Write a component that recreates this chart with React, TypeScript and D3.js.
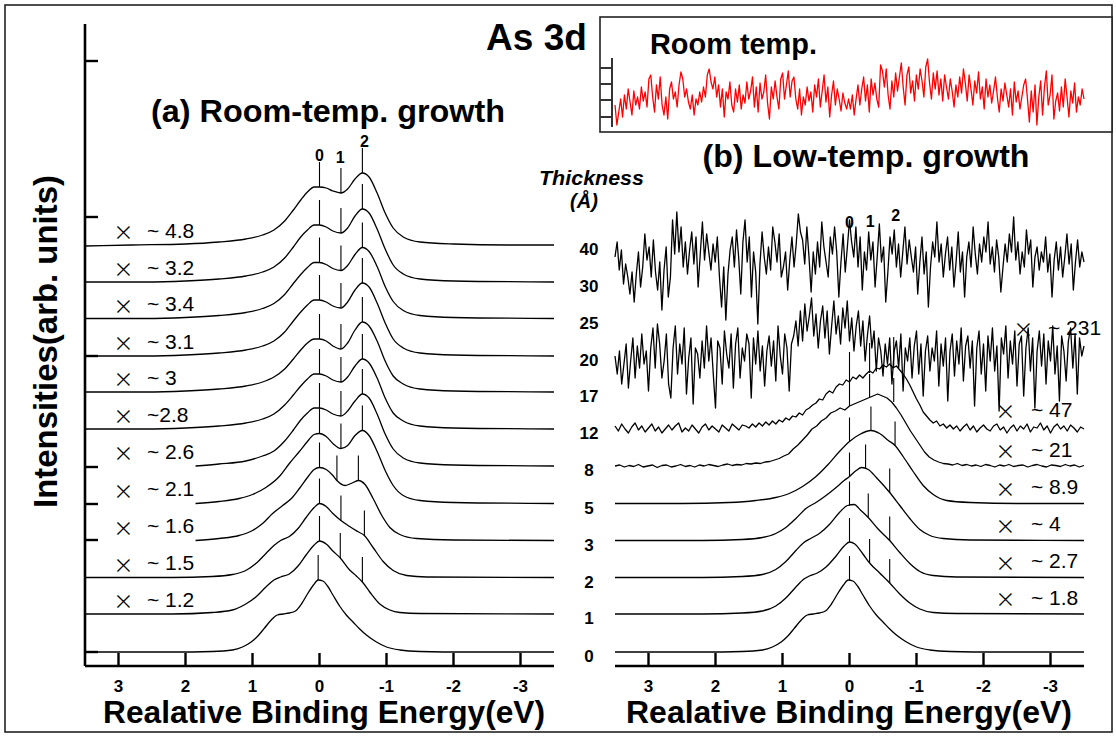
import React from 'react';
import * as d3 from 'd3';

type Pt = [number, number];

// ---------- axis / label data ----------
const energyTicks = [3, 2, 1, 0, -1, -2, -3];
const energyTickLabels = ['3', '2', '1', '0', '-1', '-2', '-3'];
const yAxisTicks = [0, 112, 148, 185, 296, 435, 591];
const insetTicks = [10, 27, 43, 59];

const thicknessLabels = ['40', '30', '25', '20', '17', '12', '8', '5', '3', '2', '1', '0'];
const thicknessOffsets = [407, 370, 333.5, 296, 260, 223, 186, 148.5, 111.5, 74.5, 38, 0];

const leftFactors = ['~ 4.8', '~ 3.2', '~ 3.4', '~ 3.1', '~ 3', '~2.8', '~ 2.6', '~ 2.1', '~ 1.6', '~ 1.5', '~ 1.2'];
const rightFactors = ['~ 1.8', '~ 2.7', '~ 4', '~ 8.9', '~ 21', '~ 47', '~ 231'];
const rightFactorOffsets = [38, 74.5, 111.5, 148.5, 186, 223, 296];

// ---------- (a) room-temperature growth spectra: [energy, intensity] ----------
const rt40: Pt[] = [[3.5,-1],[2.8,0],[2.0,1],[1.5,3],[1.1,6],[0.85,10],[0.68,15],[0.52,24],[0.39,35],[0.28,45],[0.18,53],[0.08,58],[0,58],[-0.1,57],[-0.2,54],[-0.32,52],[-0.42,56],[-0.53,66],[-0.64,72],[-0.74,68],[-0.86,52],[-0.98,32],[-1.1,17],[-1.25,8],[-1.5,3],[-2.0,1],[-2.8,0],[-3.5,0]];
const rt30: Pt[] = [[3.5,0],[2.6,0],[2.0,1],[1.5,3],[1.1,6],[0.85,10],[0.68,15],[0.52,24],[0.39,35],[0.28,45],[0.18,52],[0.08,57],[0,57],[-0.1,55],[-0.2,51],[-0.32,49],[-0.42,54],[-0.53,66],[-0.64,73],[-0.74,69],[-0.86,53],[-0.98,33],[-1.1,17],[-1.25,8],[-1.5,3],[-2.0,1],[-3.5,0]];
const rt25: Pt[] = [[3.5,0],[2.6,0],[2.0,1],[1.5,3],[1.1,6],[0.85,10],[0.68,15],[0.52,24],[0.39,35],[0.28,44],[0.18,51],[0.08,56],[0,56],[-0.1,54],[-0.2,50],[-0.32,48],[-0.42,53],[-0.53,64],[-0.64,71],[-0.74,67],[-0.86,52],[-0.98,32],[-1.1,17],[-1.25,8],[-1.5,3],[-2.0,1],[-3.5,0]];
const rt20: Pt[] = [[3.5,0],[2.6,0],[2.0,1],[1.5,3],[1.1,6],[0.85,10],[0.68,15],[0.52,24],[0.39,35],[0.28,44],[0.18,51],[0.08,56],[0,56],[-0.1,54],[-0.2,50],[-0.32,48],[-0.42,54],[-0.53,66],[-0.64,73],[-0.74,69],[-0.86,53],[-0.98,33],[-1.1,17],[-1.25,8],[-1.5,3],[-2.0,1],[-3.5,0]];
const rt17: Pt[] = [[3.5,0],[2.6,0],[2.0,1],[1.5,3],[1.1,6],[0.85,10],[0.68,15],[0.52,23],[0.39,33],[0.28,42],[0.18,49],[0.08,53],[0,53],[-0.1,51],[-0.2,46],[-0.32,43],[-0.42,49],[-0.53,62],[-0.64,70],[-0.74,66],[-0.86,51],[-0.98,31],[-1.1,16],[-1.25,8],[-1.5,3],[-2.0,1],[-3.5,0]];
const rt12: Pt[] = [[3.5,0],[2.6,0],[2.0,1],[1.5,3],[1.1,6],[0.85,10],[0.68,15],[0.52,24],[0.39,34],[0.28,43],[0.18,50],[0.08,55],[0,55],[-0.1,53],[-0.2,49],[-0.32,47],[-0.42,52],[-0.53,63],[-0.64,70],[-0.74,66],[-0.86,51],[-0.98,31],[-1.1,16],[-1.25,8],[-1.5,3],[-2.0,1],[-3.5,0]];
const rt8: Pt[] = [[1.85,0],[1.5,2],[1.1,5],[0.85,10],[0.68,15],[0.52,25],[0.39,36],[0.28,46],[0.18,53],[0.08,58],[0,58],[-0.1,56],[-0.2,52],[-0.32,50],[-0.42,55],[-0.53,65],[-0.64,72],[-0.74,68],[-0.86,52],[-0.98,32],[-1.1,17],[-1.25,8],[-1.5,3],[-2.0,1],[-3.5,0]];
const rt5: Pt[] = [[1.85,0],[1.5,2],[1.2,5],[1.0,9],[0.8,16],[0.6,27],[0.45,40],[0.3,52],[0.18,62],[0.08,69],[0,70],[-0.1,67],[-0.2,60],[-0.32,55],[-0.42,58],[-0.53,68],[-0.64,73],[-0.74,68],[-0.86,52],[-0.98,33],[-1.1,18],[-1.25,8],[-1.5,3],[-2.0,1],[-3.5,0]];
const rt3: Pt[] = [[1.85,0],[1.5,2],[1.2,5],[1.0,10],[0.85,17],[0.7,27],[0.55,35],[0.42,42],[0.3,52],[0.18,63],[0.08,71],[0,73],[-0.1,71],[-0.2,65],[-0.26,60],[-0.38,55],[-0.47,57],[-0.58,60],[-0.68,56],[-0.8,42],[-0.93,25],[-1.05,13],[-1.2,6],[-1.45,2],[-2.0,0.5],[-3.5,0]];
const rt2: Pt[] = [[3.5,0],[2.2,0],[1.6,1],[1.3,3],[1.1,7],[0.95,14],[0.8,24],[0.68,32],[0.58,37],[0.45,41],[0.32,49],[0.2,60],[0.08,70],[0,74],[-0.1,71],[-0.2,64],[-0.32,57],[-0.45,51],[-0.57,46],[-0.67,42],[-0.8,30],[-0.95,16],[-1.1,7],[-1.3,2],[-1.6,0.5],[-3.5,0]];
const rt1: Pt[] = [[3.5,0],[2.2,0],[1.6,1.5],[1.3,4],[1.1,10],[0.95,17],[0.8,27],[0.68,34],[0.58,37],[0.45,40],[0.32,48],[0.2,59],[0.08,69],[0,73],[-0.1,70],[-0.2,63],[-0.31,56],[-0.45,44],[-0.55,38],[-0.64,32],[-0.75,22],[-0.9,10],[-1.05,4],[-1.2,1.5],[-1.5,0.5],[-3.5,0]];
const clean0: Pt[] = [[3.5,0],[2.2,0],[1.6,0.5],[1.3,2],[1.15,5],[1.02,10],[0.92,16],[0.82,24],[0.72,32],[0.63,37],[0.54,38],[0.45,39],[0.36,41],[0.27,48],[0.18,58],[0.09,67],[0.02,72],[-0.05,71],[-0.12,66],[-0.2,57],[-0.3,46],[-0.4,37],[-0.5,30],[-0.6,23],[-0.7,17],[-0.85,10],[-1.0,5],[-1.2,2],[-1.5,0.5],[-2.2,0],[-3.5,0]];

const rtMarkers: Pt[][] = [
  [[0,58],[-0.32,52],[-0.64,72]],
  [[0,57],[-0.32,49],[-0.64,73]],
  [[0,56],[-0.32,48],[-0.64,71]],
  [[0,56],[-0.32,48],[-0.64,73]],
  [[0,53],[-0.32,43],[-0.64,70]],
  [[0,55],[-0.32,47],[-0.64,70]],
  [[0,58],[-0.32,50],[-0.64,72]],
  [[0,70],[-0.32,55],[-0.64,73]],
  [[0,73],[-0.26,60],[-0.58,60]],
  [[0,74],[-0.32,57],[-0.67,42]],
  [[0,73],[-0.31,56],[-0.64,32]],
  [[0.02,72]],
];

// ---------- (b) low-temperature growth spectra ----------
const lt1: Pt[] = [[3.5,0],[2.2,0],[1.6,1],[1.3,3],[1.1,8],[0.95,16],[0.8,27],[0.68,35],[0.6,38],[0.48,41],[0.35,47],[0.2,58],[0.08,68],[0,72],[-0.08,70],[-0.2,60],[-0.3,51],[-0.45,41],[-0.6,31],[-0.75,20],[-0.9,11],[-1.05,5],[-1.25,1.5],[-1.6,0.5],[-3.5,0]];
const lt2: Pt[] = [[3.5,0],[2.2,0],[1.6,1],[1.3,3],[1.1,8],[0.95,16],[0.8,27],[0.68,35],[0.58,39],[0.45,44],[0.3,53],[0.15,65],[0.03,72],[-0.07,73],[-0.17,67],[-0.28,60],[-0.42,49],[-0.6,37],[-0.75,25],[-0.9,14],[-1.05,6],[-1.25,2],[-1.6,0.5],[-3.5,0]];
const lt3: Pt[] = [[3.5,0],[2.2,0],[1.6,1],[1.3,3],[1.1,7],[0.95,13],[0.8,22],[0.65,32],[0.5,38],[0.35,45],[0.2,53],[0.08,60],[0,64],[-0.1,70],[-0.18,73],[-0.28,71],[-0.4,63],[-0.6,48],[-0.75,35],[-0.9,22],[-1.05,11],[-1.2,5],[-1.4,2],[-1.8,0.5],[-3.5,0]];
const lt5: Pt[] = [[3.5,0],[2.5,0],[1.8,1],[1.4,3],[1.1,6],[0.9,10],[0.7,17],[0.5,27],[0.32,39],[0.15,52],[0,62],[-0.15,69],[-0.32,73],[-0.45,70],[-0.58,63],[-0.68,58],[-0.8,47],[-0.95,32],[-1.1,18],[-1.25,9],[-1.45,3],[-1.8,1],[-2.5,0],[-3.5,0]];
const lt8: number[] = [0,1,-1,0.5,-0.5,1.5,-1,0,1,-1.5,0.5,1,-1,0,1.5,-0.5,0.5,-1,1,0,1.5,0.5,-0.5,1,2,0.5,1.5,1,2.5,2,3,2.5,4,4.5,6,7.5,10,12,17,21,26,31,37,40,45,48,53,55,58,56,60,62,64,66,68,70,72,70,68,64,58,51,43,35,28,21,14,9,6,4,2.5,2,1,2.5,0.5,1.5,0,1,-0.5,1.5,0.5,-1,1,0,1.5,-0.5,0.5,1,-1,0.5,1.5,0,-1,1,0.5,-0.5,1.5,0,1,-1,0.5];
const lt12: number[] = [3,-2,5,0,-4,2,6,-1,3,-3,1,5,-2,2,-4,0,4,-1,3,6,-3,1,-2,4,0,-4,2,5,-1,3,0,-3,4,1,-2,5,2,-1,4,3,
  1,5,2,6,3,7,4,8,5,9,7,11,9,13,12,16,14,19,21,24,26,30,29,35,38,36,42,45,44,49,47,52,50,54,51,55,58,56,61,60,
  64,62,65,61,63,59,55,50,44,37,30,24,17,13,9,6,8,3,5,1,
  4,0,3,-2,2,5,-1,3,-3,1,4,0,-2,3,5,-1,2,-4,1,4,-2,3,0,5,-3,2,1,6,-1,3,-4,2,5,0,3,-2,4,1,-3,2,0];
const lt20: number[] = [0,-18,5,-28,-8,12,-32,-5,18,-22,10,-12,22,-8,5,-35,8,28,-12,32,
  12,-22,-5,22,-28,-42,8,30,-18,12,-8,28,-38,-2,18,-48,8,2,-22,15,
  -12,30,-5,18,-18,-52,15,8,-28,25,2,-12,22,-32,12,28,-22,8,-5,22,
  12,-42,18,-8,25,-15,10,-30,5,20,-10,15,-25,30,0,-18,22,8,-35,12,
  20,35,10,45,15,52,25,40,58,20,42,8,35,50,18,45,2,30,55,22,
  40,12,48,28,55,15,38,5,30,45,10,35,-5,20,40,8,25,-15,18,5,
  -20,12,-8,18,-28,5,15,-12,22,-35,8,-5,18,-22,10,25,-18,12,-40,5,
  20,-15,8,-5,25,-30,12,-10,18,-45,5,22,-20,15,-8,28,-25,10,20,-12,
  15,-50,8,25,-18,12,-35,20,-5,28,-15,10,-55,18,2,30,-22,15,-8,25,
  -30,12,20,-40,8,28,-15,18,-52,5,25,-10,22,-28,15,-5,30,-18,10,-45,
  20,5,-25,15,28,-12,22,-38,18,0,10];
const lt30: number[] = [25,40,12,32,-2,18,5,-12,10,-20,8,30,-5,15,48,22,35,5,42,10,
  -8,20,-28,12,35,-15,5,62,28,70,30,55,15,40,8,32,50,18,45,-5,
  28,60,22,48,30,12,38,20,45,5,-25,15,-38,8,32,45,15,52,25,-12,
  40,62,20,45,-15,30,10,-42,18,50,25,8,35,12,55,40,20,48,5,15,
  30,-8,22,45,15,38,68,50,42,18,55,25,-10,30,8,40,15,60,35,20,
  5,45,28,55,30,-15,20,48,10,35,62,40,25,55,15,45,-8,30,12,50,
  22,40,-5,25,58,20,35,-20,10,45,28,52,15,38,5,30,55,18,42,25,
  10,35,-12,20,45,8,30,-25,15,40,25,60,20,38,5,28,45,12,35,-5,
  20,50,10,30,-15,25,40,15,55,28,8,38,20,45,30,60,18,35,10,42,
  25,-10,15,38,20,48,30,65,22,40,8,30,15,52,28,42,-5,25,35,12,
  30,20,45,10,28,-15,22,40,12,35,5,25,48,18,38,-8,20,42,15,30,20];

const ltMarkers: Pt[][] = [
  [[0,72]],
  [[0,72],[-0.3,51],[-0.6,31]],
  [[0,72],[-0.28,60],[-0.6,37]],
  [[0,64],[-0.24,72],[-0.6,48]],
  [[0,62],[-0.32,73],[-0.68,58]],
  [[0,60],[-0.3,68],[-0.66,64]],
  [[0,47],[-0.3,56],[-0.66,62]],
];
const ltMarkerOffsets = [0, 38, 74.5, 111.5, 148.5, 186, 223];

// ---------- inset: room temperature ----------
const insetTrace: number[] = [22,2,15,28,10,32,18,38,25,12,36,22,30,18,40,26,35,20,48,52,30,15,42,28,50,22,12,30,8,38,45,28,35,20,42,55,48,30,38,25,18,32,12,28,22,
  35,25,40,30,52,58,45,38,50,30,42,20,38,10,35,28,45,22,15,38,25,42,18,32,24,45,28,36,50,20,40,15,44,28,35,52,24,8,40,28,46,30,18,48,54,28,42,56,30,46,50,28,18,38,12,30,22,40,26,35,15,42,30,48,20,36,52,25,40,10,32,46,22,38,28,16,34,24,18,28,
  18,32,12,28,42,22,38,50,26,42,15,48,32,44,28,20,62,56,40,58,32,18,46,30,54,36,50,64,40,22,52,60,34,46,26,52,38,58,46,30,60,68,44,28,54,38,56,32,48,26,52,40,28,48,36,20,42,30,50,34,58,44,26,52,38,22,46,34,55,28,40,18,48,30,42,24,36,50,30,15,38,26,44,32,20,
  38,12,45,25,36,18,30,42,48,28,5,36,15,42,2,30,46,12,40,56,22,32,52,8,26,34,16,40,20,48,30,10,36,24,44,15,30,22,38,28];

const FONT = "'Liberation Sans', Arial, Helvetica, sans-serif";
const THIN = "Inter, 'DejaVu Sans', 'Liberation Sans', sans-serif";

const toPts = (vals: number[]): Pt[] =>
  vals.map((v, i) => [3.5 - (7 * i) / (vals.length - 1), v] as Pt);

export default function App() {
  const W = 1116, H = 736;
  const xL = d3.scaleLinear().domain([3.5, -3.5]).range([85, 554]);
  const xR = d3.scaleLinear().domain([3.5, -3.5]).range([615, 1084]);
  const y = d3.scaleLinear().domain([0, 628]).range([652, 24]);
  const yIn = d3.scaleLinear().domain([0, 69]).range([127, 58]);
  const axisY = 666;

  const leftCurves: Pt[][] = [rt40, rt30, rt25, rt20, rt17, rt12, rt8, rt5, rt3, rt2, rt1, clean0];
  const rightSmooth: { d: Pt[]; off: number }[] = [
    { d: clean0, off: 0 }, { d: lt1, off: 38 }, { d: lt2, off: 74.5 }, { d: lt3, off: 111.5 }, { d: lt5, off: 148.5 },
  ];
  const rightNoisy: { d: Pt[]; off: number }[] = [
    { d: toPts(lt8), off: 186 }, { d: toPts(lt12), off: 223 }, { d: toPts(lt20), off: 296 }, { d: toPts(lt30), off: 370 },
  ];

  const smooth = (xs: d3.ScaleLinear<number, number>, off: number) =>
    d3.line<Pt>().x((d) => xs(d[0])).y((d) => y(off + d[1])).curve(d3.curveMonotoneX);
  const linear = (xs: d3.ScaleLinear<number, number>, off: number) =>
    d3.line<Pt>().x((d) => xs(d[0])).y((d) => y(off + d[1]));
  const insetLine = d3.line<Pt>().x((d) => xR(d[0])).y((d) => yIn(d[1]));

  const xAxis = (xs: d3.ScaleLinear<number, number>, key: string) => (
    <g key={key}>
      <line x1={xs(3.5)} x2={xs(-3.5)} y1={axisY} y2={axisY} stroke="#000" strokeWidth={2.6} />
      {energyTicks.map((t, i) => (
        <g key={t}>
          <line x1={xs(t)} x2={xs(t)} y1={axisY} y2={axisY - 13} stroke="#000" strokeWidth={2.4} />
          <text x={xs(t)} y={692} textAnchor="middle" fontSize={17} fontWeight="bold" fontFamily={FONT}>
            {energyTickLabels[i]}
          </text>
        </g>
      ))}
    </g>
  );

  return (
    <svg width={W} height={H} style={{ position: 'absolute', left: 0, top: 0, background: '#fff' }} fontFamily={FONT}>
      <rect x={0} y={0} width={W} height={H} fill="#fff" />
      <rect x={5} y={5} width={1107} height={727} fill="none" stroke="#222" strokeWidth={1.6} />

      {/* Left y axis */}
      <line x1={85} x2={85} y1={24} y2={axisY} stroke="#000" strokeWidth={2.6} />
      {yAxisTicks.map((t) => (
        <line key={t} x1={85} x2={98} y1={y(t)} y2={y(t)} stroke="#000" strokeWidth={2.4} />
      ))}
      {xAxis(xL, 'xl')}
      {xAxis(xR, 'xr')}

      {/* Left panel spectra */}
      {leftCurves.map((c, i) => (
        <path key={'l' + i} d={smooth(xL, thicknessOffsets[i])(c) || ''} fill="none" stroke="#000" strokeWidth={1.3} />
      ))}
      {rtMarkers.map((ms, i) =>
        ms.map((m, j) => (
          <line key={'lm' + i + '-' + j} x1={xL(m[0])} x2={xL(m[0])} y1={y(thicknessOffsets[i] + m[1])} y2={y(thicknessOffsets[i] + m[1]) - 25}
            stroke="#000" strokeWidth={1.1} />
        ))
      )}

      {/* Right panel spectra */}
      {rightSmooth.map((c, i) => (
        <path key={'rs' + i} d={smooth(xR, c.off)(c.d) || ''} fill="none" stroke="#000" strokeWidth={1.3} />
      ))}
      {rightNoisy.map((c, i) => (
        <path key={'rn' + i} d={linear(xR, c.off)(c.d) || ''} fill="none" stroke="#000" strokeWidth={1.3} strokeLinejoin="round" />
      ))}
      {ltMarkers.map((ms, i) =>
        ms.map((m, j) => (
          <line key={'rm' + i + '-' + j} x1={xR(m[0])} x2={xR(m[0])} y1={y(ltMarkerOffsets[i] + m[1])}
            y2={y(ltMarkerOffsets[i] + m[1]) - (i === 6 ? 30 : 24)} stroke="#000" strokeWidth={1.1} />
        ))
      )}

      {/* peak labels */}
      <g fontWeight="bold" fontSize={16} textAnchor="middle">
        <text x={xL(0)} y={161}>0</text>
        <text x={xL(-0.31)} y={163}>1</text>
        <text x={xL(-0.67)} y={147}>2</text>
        <text x={xR(0)} y={228}>0</text>
        <text x={xR(-0.31)} y={227}>1</text>
        <text x={xR(-0.69)} y={221}>2</text>
      </g>

      {/* thickness column */}
      <text x={591.5} y={185} textAnchor="middle" fontSize={20} fontWeight="bold" fontStyle="italic" textLength={105} lengthAdjust="spacingAndGlyphs">Thickness</text>
      <text x={584} y={208} textAnchor="middle" fontSize={20} fontWeight="bold" fontStyle="italic">(Å)</text>
      {thicknessLabels.map((t, i) => (
        <text key={'t' + t} x={589} y={y(thicknessOffsets[i]) + 10} textAnchor="middle" fontSize={17} fontWeight="bold">{t}</text>
      ))}

      {/* multiplication factors */}
      {leftFactors.map((f, i) => {
        const cy = y(thicknessOffsets[i]) - 15;
        return (
          <g key={'lf' + i}>
            <text x={123.5} y={cy} dominantBaseline="central" textAnchor="middle" fontSize={30} fontWeight={200} fontFamily={THIN}>×</text>
            <text x={147} y={cy} dominantBaseline="central" fontSize={21}>{f}</text>
          </g>
        );
      })}
      {rightFactors.map((f, i) => {
        const big = i === 6;
        const cy = y(rightFactorOffsets[i]) + (i === 6 ? -29 : i === 5 ? -20 : -17);
        return (
          <g key={'rf' + i}>
            <text x={big ? 1023.5 : 1005.5} y={cy} dominantBaseline="central" textAnchor="middle" fontSize={30} fontWeight={200} fontFamily={THIN}>×</text>
            <text x={big ? 1048 : 1031} y={cy} dominantBaseline="central" fontSize={21}>{f}</text>
          </g>
        );
      })}

      {/* titles */}
      <text x={536.5} y={50} textAnchor="middle" fontSize={37} fontWeight="bold">As 3d</text>
      <text x={328} y={122} textAnchor="middle" fontSize={32} fontWeight="bold" textLength={354} lengthAdjust="spacingAndGlyphs">(a) Room-temp. growth</text>
      <text x={866} y={167} textAnchor="middle" fontSize={32} fontWeight="bold" textLength={327} lengthAdjust="spacingAndGlyphs">(b) Low-temp. growth</text>
      <text x={324} y={723} textAnchor="middle" fontSize={32} fontWeight="bold" textLength={442} lengthAdjust="spacingAndGlyphs">Realative Binding Energy(eV)</text>
      <text x={849} y={723} textAnchor="middle" fontSize={32} fontWeight="bold" textLength={446} lengthAdjust="spacingAndGlyphs">Realative Binding Energy(eV)</text>
      <text transform="translate(57,341.5) rotate(-90)" textAnchor="middle" fontSize={33} fontWeight="bold" textLength={333} lengthAdjust="spacingAndGlyphs">Intensities(arb. units)</text>

      {/* inset */}
      <rect x={600} y={17} width={512} height={115} fill="#fff" stroke="#222" strokeWidth={1.6} />
      <text x={733.5} y={54} textAnchor="middle" fontSize={29} fontWeight="bold" textLength={167} lengthAdjust="spacingAndGlyphs">Room temp.</text>
      <line x1={612} x2={612} y1={58} y2={127} stroke="#333" strokeWidth={2} />
      {insetTicks.map((t) => (
        <line key={'it' + t} x1={600} x2={612} y1={yIn(t)} y2={yIn(t)} stroke="#333" strokeWidth={2} />
      ))}
      <path d={insetLine(toPts(insetTrace)) || ''} fill="none" stroke="#ff0000" strokeWidth={1.3} strokeLinejoin="round" />
    </svg>
  );
}
